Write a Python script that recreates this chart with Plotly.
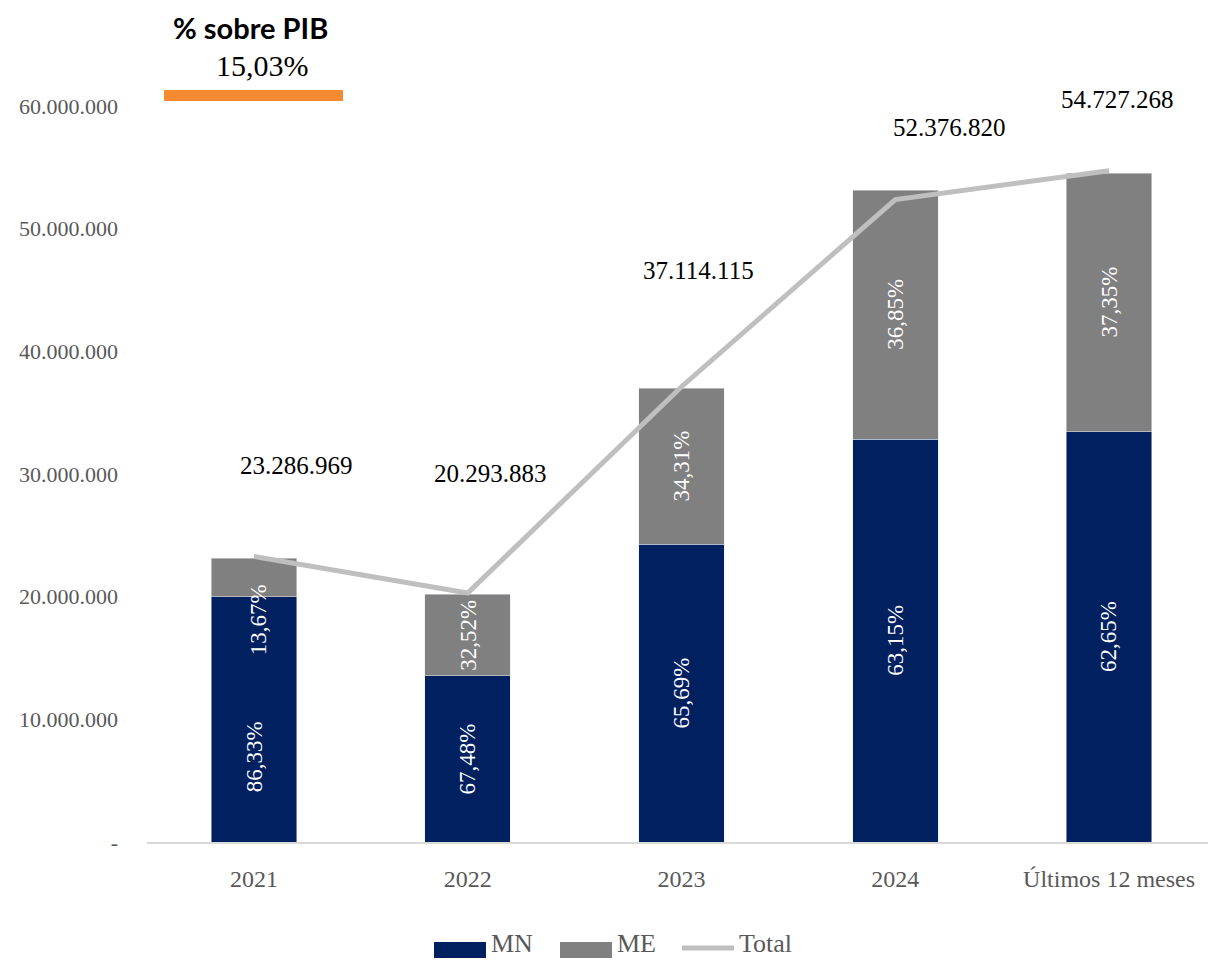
import plotly.graph_objects as go

categories = ["2021", "2022", "2023", "2024", "Últimos 12 meses"]
mn_values = [20.0e6, 13.56e6, 24.29e6, 32.85e6, 33.45e6]
me_values = [3.13e6, 6.63e6, 12.72e6, 20.30e6, 21.06e6]
totals = [23286969, 20293883, 37114115, 52376820, 54727268]
total_labels = ["23.286.969", "20.293.883", "37.114.115", "52.376.820", "54.727.268"]
mn_pct = ["86,33%", "67,48%", "65,69%", "63,15%", "62,65%"]
me_pct = ["13,67%", "32,52%", "34,31%", "36,85%", "37,35%"]
series_names = ["MN", "ME", "Total"]
pib_title = "% sobre PIB"
pib_value = "15,03%"
tick_vals = [0, 10e6, 20e6, 30e6, 40e6, 50e6, 60e6]
tick_text = ["-", "10.000.000", "20.000.000", "30.000.000", "40.000.000", "50.000.000", "60.000.000"]

NAVY = "#00205F"
GRAY = "#808080"
LINE = "#BFBFBF"
SERIF = "Liberation Serif"

# page offset (browser body margin)
OFF = 8
W, H = 1208, 952
L, R, T, B = 147 - OFF, 0, 106 - OFF, 960 - 842
PW, PH = W - L - R, H - T - B


def px(x):
    return (x - OFF - L) / PW


def py(y):
    return (H - B - (y - OFF)) / PH


# label placement offsets (pixels)
total_xshift = [43, 23, 17, 54, 8]
total_yshift = [91, 120, 116, 72, 71]
mn_yshift = [-37, 0, 0, 0, 0]
me_yshift = [-42, 0, 0, 0, 0]
me_xshift = [5, 0, 0, 0, 0]

fig = go.Figure()
fig.add_trace(go.Bar(x=categories, y=mn_values, marker_color=NAVY, name=series_names[0],
                     showlegend=False, hoverinfo="skip"))
fig.add_trace(go.Bar(x=categories, y=me_values, marker_color=GRAY, name=series_names[1],
                     showlegend=False, hoverinfo="skip"))
fig.add_trace(go.Scatter(x=categories, y=totals, mode="lines", name=series_names[2],
                         line=dict(color=LINE, width=5), showlegend=False))

annotations = []
for i, c in enumerate(categories):
    # category axes position annotations by category index
    annotations.append(dict(x=i, y=totals[i], text=total_labels[i], showarrow=False,
                            xanchor="center", yanchor="middle",
                            xshift=total_xshift[i], yshift=total_yshift[i],
                            font=dict(family=SERIF, size=25, color="#000000")))
    annotations.append(dict(x=i, y=mn_values[i] / 2, text=mn_pct[i], showarrow=False,
                            xanchor="center", yanchor="middle",
                            textangle=-90, yshift=mn_yshift[i],
                            font=dict(family=SERIF, size=23, color="#FFFFFF")))
    annotations.append(dict(x=i, y=mn_values[i] + me_values[i] / 2, text=me_pct[i],
                            showarrow=False, textangle=-90, yshift=me_yshift[i],
                            xanchor="center", yanchor="middle", xshift=me_xshift[i],
                            font=dict(family=SERIF, size=23, color="#FFFFFF")))

annotations.append(dict(xref="paper", yref="paper", x=px(250), y=py(27),
                        xanchor="center", yanchor="middle",
                        text="<b>" + pib_title + "</b>", showarrow=False,
                        font=dict(family="Lato", size=29, color="#000000")))
annotations.append(dict(xref="paper", yref="paper", x=px(262), y=py(66),
                        xanchor="center", yanchor="middle",
                        text=pib_value, showarrow=False,
                        font=dict(family=SERIF, size=30, color="#000000")))

# manual legend
shapes = [
    dict(type="rect", xref="paper", yref="paper", x0=px(164), x1=px(343),
         y0=py(101), y1=py(90), fillcolor="#F58A33", line=dict(width=0)),
    dict(type="rect", xref="paper", yref="paper", x0=px(434), x1=px(486),
         y0=py(958), y1=py(942), fillcolor=NAVY, line=dict(width=0)),
    dict(type="rect", xref="paper", yref="paper", x0=px(560), x1=px(612),
         y0=py(958), y1=py(942), fillcolor=GRAY, line=dict(width=0)),
    dict(type="line", xref="paper", yref="paper", x0=px(682), x1=px(734),
         y0=py(948), y1=py(948), line=dict(color=LINE, width=5)),
]
legend_x = [489, 615, 737]
for name, lx in zip(series_names, legend_x):
    annotations.append(dict(xref="paper", yref="paper", x=px(lx), y=py(943),
                            xanchor="left", yanchor="middle", text=name, showarrow=False,
                            font=dict(family=SERIF, size=26, color="#595959")))

fig.update_layout(annotations=annotations, shapes=shapes)

fig.update_layout(
    width=W, height=H,
    barmode="stack", bargap=0.6,
    plot_bgcolor="white", paper_bgcolor="white",
    margin=dict(l=L, r=R, t=T, b=B),
    font=dict(family=SERIF, color="#595959"),
    showlegend=False,
    xaxis=dict(type="category", categoryorder="array", categoryarray=categories,
               range=[-0.5, len(categories) - 0.5], autorange=False,
               showline=True, linecolor="#D9D9D9", linewidth=2,
               showgrid=False, tickfont=dict(family=SERIF, size=24, color="#595959"),
               ticks="", ticklabelstandoff=14),
    yaxis=dict(range=[0, 60e6], autorange=False, showgrid=False, zeroline=False,
               showline=False, tickvals=tick_vals, ticktext=tick_text,
               tickfont=dict(family=SERIF, size=22, color="#595959"),
               ticklabelstandoff=28),
)

fig.write_html("out.html")
